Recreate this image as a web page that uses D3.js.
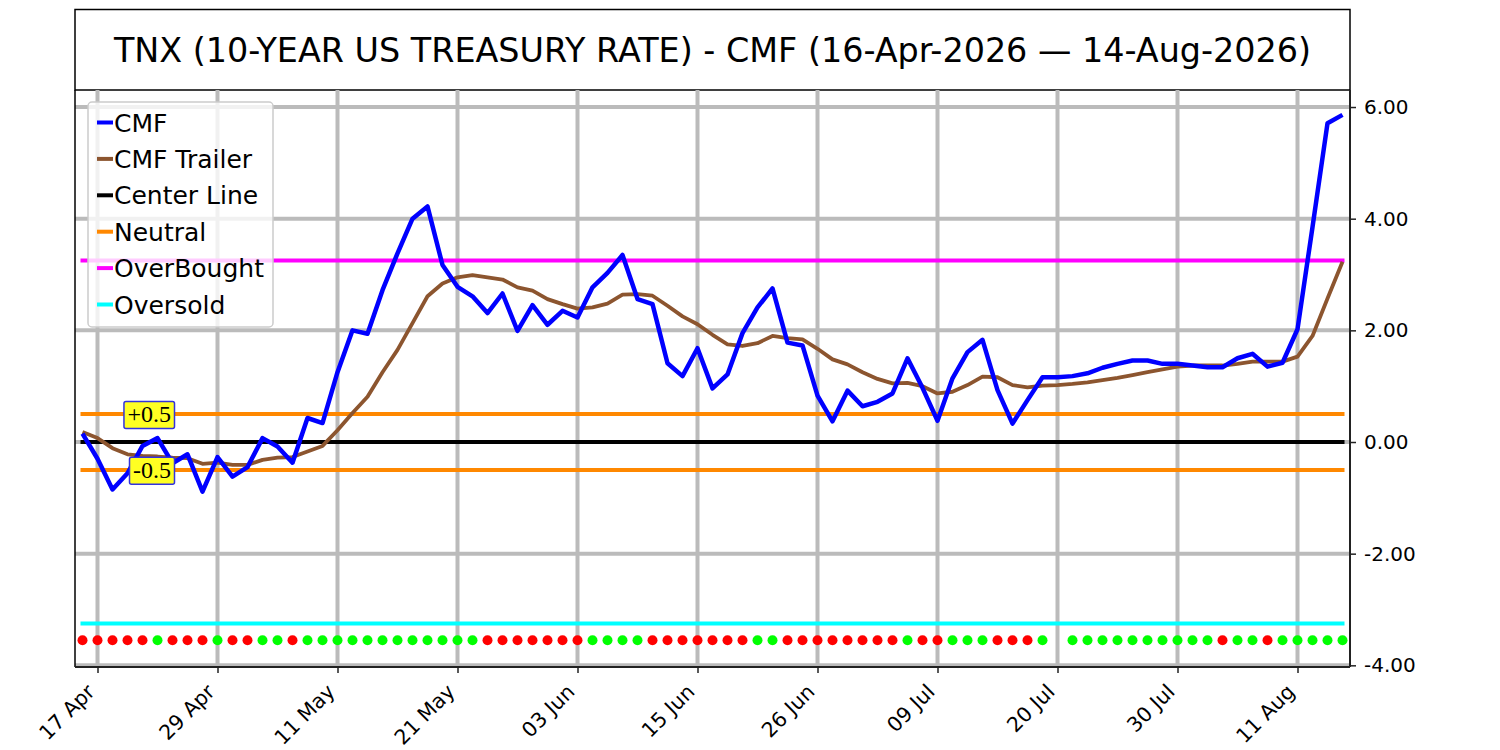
<!DOCTYPE html>
<html>
<head>
<meta charset="utf-8">
<script src="https://cdn.jsdelivr.net/npm/d3@7"></script>
<style>
  body { margin: 0; background: #fff; }
  text { font-family: "DejaVu Sans", sans-serif; }
</style>
</head>
<body>
<div id="chart"></div>
<script>
"use strict";
// valeurs (index = jour de bourse, 16-Apr -> 14-Aug)
const cmf = [0.15,-0.3,-0.85,-0.56,-0.07,0.07,-0.38,-0.22,-0.89,-0.27,
  -0.62,-0.45,0.07,-0.08,-0.37,0.43,0.34,1.25,2.0,1.94,
  2.72,3.38,4.0,4.22,3.17,2.78,2.61,2.31,2.66,1.99,
  2.45,2.1,2.35,2.23,2.77,3.03,3.35,2.56,2.47,1.41,
  1.18,1.68,0.96,1.21,1.95,2.41,2.75,1.78,1.73,0.83,
  0.37,0.92,0.64,0.72,0.87,1.5,0.97,0.38,1.14,1.61,
  1.83,0.93,0.33,0.75,1.16,1.16,1.18,1.23,1.33,1.4,
  1.46,1.46,1.4,1.4,1.37,1.34,1.34,1.5,1.58,1.35,
  1.42,2.02,3.85,5.71,5.86];
const cmfTrailer = [0.18,0.07,-0.11,-0.22,-0.25,-0.26,-0.28,-0.29,-0.39,-0.37,
  -0.41,-0.41,-0.32,-0.28,-0.27,-0.17,-0.07,0.21,0.52,0.81,
  1.25,1.65,2.13,2.61,2.84,2.95,2.99,2.95,2.91,2.77,
  2.71,2.56,2.47,2.39,2.41,2.48,2.64,2.65,2.62,2.44,
  2.25,2.11,1.92,1.75,1.72,1.77,1.9,1.86,1.84,1.67,
  1.48,1.39,1.25,1.13,1.05,1.06,1.0,0.87,0.9,1.02,
  1.17,1.16,1.02,0.98,1.01,1.02,1.04,1.07,1.11,1.15,
  1.2,1.25,1.3,1.35,1.37,1.37,1.37,1.4,1.44,1.44,
  1.44,1.53,1.9,2.57,3.23];
// signal : R = rouge, G = vert, - = pas de point
const signal = "RRRRRGRRRGRRGGRGGGGGGGGGGGGRRRRRRRGGGGRRRRRRRGGRRRRRRRRGRRGGGRRRG-GGGGGGGGGGRGGRGGGGG".split("");
const tickIdx = [1,9,17,25,33,41,49,57,65,73,81];
const tickLabels = ["17 Apr","29 Apr","11 May","21 May","03 Jun","15 Jun","26 Jun","09 Jul","20 Jul","30 Jul","11 Aug"];
const yTicks = [6,4,2,0,-2,-4];
const levels = {center: 0, neutral: [0.5,-0.5], overBought: 3.25, overSold: -3.25, signalY: -3.55};
const legendItems = [
  {name: "CMF", color: "#0000ff"},
  {name: "CMF Trailer", color: "#8c552f"},
  {name: "Center Line", color: "#000000"},
  {name: "Neutral", color: "#ff8800"},
  {name: "OverBought", color: "#ff00ff"},
  {name: "Oversold", color: "#00ffff"}
];
const title = "TNX (10-YEAR US TREASURY RATE) - CMF (16-Apr-2026 \u2014 14-Aug-2026)";

const W = 1500, H = 750;
const pLeft = 75, pRight = 1350, pTop = 90, pBottom = 667;

const svg = d3.select("#chart").append("svg").attr("width", W).attr("height", H);

const x = d3.scaleLinear().domain([-0.5, cmf.length - 0.5]).range([pLeft, pRight]);
const y = d3.scaleLinear().domain([-4.03, 6.305]).range([pBottom, pTop]);

// boîte du titre
svg.append("rect").attr("x", pLeft).attr("y", 9.5).attr("width", pRight - pLeft).attr("height", pTop - 9.5)
  .attr("fill", "none").attr("stroke", "#000").attr("stroke-width", 1.5);
svg.append("text").attr("x", (pLeft + pRight) / 2).attr("y", 62)
  .attr("text-anchor", "middle").attr("font-size", 33.4).attr("fill", "#000").text(title);

const plot = svg.append("g");
plot.append("clipPath").attr("id", "clip").append("rect")
  .attr("x", pLeft).attr("y", pTop).attr("width", pRight - pLeft).attr("height", pBottom - pTop);
const g = plot.append("g").attr("clip-path", "url(#clip)");

// grille
g.selectAll(".hgrid").data(yTicks).enter().append("line")
  .attr("x1", pLeft).attr("x2", pRight).attr("y1", d => y(d)).attr("y2", d => y(d))
  .attr("stroke", "#bbbbbb").attr("stroke-width", 4);
g.selectAll(".vgrid").data(tickIdx).enter().append("line")
  .attr("x1", d => x(d)).attr("x2", d => x(d)).attr("y1", pTop).attr("y2", pBottom)
  .attr("stroke", "#bbbbbb").attr("stroke-width", 4);

// lignes de niveau
function hline(v, color, w) {
  g.append("line").attr("x1", x(0)).attr("x2", x(cmf.length - 1))
    .attr("y1", y(v)).attr("y2", y(v))
    .attr("stroke", color).attr("stroke-width", w).attr("stroke-linecap", "square");
}
hline(levels.overSold, "#00ffff", 4);
hline(levels.overBought, "#ff00ff", 4);
levels.neutral.forEach(v => hline(v, "#ff8800", 4));
hline(levels.center, "#000000", 4);

const line = d3.line().x((d, i) => x(i)).y(d => y(d));
g.append("path").datum(cmfTrailer).attr("d", line).attr("fill", "none")
  .attr("stroke", "#8c552f").attr("stroke-width", 3.8).attr("stroke-linejoin", "round");
g.append("path").datum(cmf).attr("d", line).attr("fill", "none")
  .attr("stroke", "#0000ff").attr("stroke-width", 4.5).attr("stroke-linejoin", "round");

// points de signal
g.selectAll(".sig").data(signal.map((s, i) => ({s, i})).filter(d => d.s !== "-"))
  .enter().append("circle")
  .attr("cx", d => x(d.i)).attr("cy", y(levels.signalY)).attr("r", 5)
  .attr("fill", d => d.s === "G" ? "#00ff00" : "#ff0000");

// étiquettes +0.5 / -0.5
levels.neutral.forEach(v => {
  const lab = svg.append("g");
  const t = lab.append("text").attr("x", x(6) - 1.5).attr("y", y(v))
    .attr("dy", "0.35em").attr("text-anchor", "end")
    .style("font-family", "'Liberation Serif', 'DejaVu Serif', serif").attr("font-size", 24)
    .attr("fill", "#000").text(v > 0 ? "+0.5" : "-0.5");
  const bb = t.node().getBBox();
  lab.insert("rect", "text").attr("x", bb.x - 3.5).attr("y", bb.y)
    .attr("width", bb.width + 7).attr("height", bb.height + 1).attr("rx", 2)
    .attr("fill", "#ffff22").attr("stroke", "#3333dd").attr("stroke-width", 1.5);
});

// cadre
svg.append("line").attr("x1", pLeft).attr("x2", pLeft).attr("y1", pTop).attr("y2", pBottom)
  .attr("stroke", "#000").attr("stroke-width", 1.5);
svg.append("line").attr("x1", pRight).attr("x2", pRight).attr("y1", pTop).attr("y2", pBottom)
  .attr("stroke", "#222").attr("stroke-width", 2);
svg.append("line").attr("x1", pLeft).attr("x2", pRight).attr("y1", pBottom).attr("y2", pBottom)
  .attr("stroke", "#222").attr("stroke-width", 2);

// axe droit
const yAxis = svg.append("g").attr("transform", `translate(${pRight},0)`)
  .call(d3.axisRight(y).tickValues(yTicks).tickFormat(d3.format(".2f")).tickSize(6).tickPadding(8));
yAxis.select(".domain").remove();
yAxis.selectAll(".tick line").attr("stroke", "#222").attr("stroke-width", 1.5);
yAxis.selectAll(".tick text").attr("font-size", 20).attr("fill", "#000")
  .style("font-family", "'DejaVu Sans', sans-serif")
  .text(d => d3.format(".2f")(d).replace("\u2212", "-"));

// axe du bas
const xAxis = svg.append("g").attr("transform", `translate(0,${pBottom})`)
  .call(d3.axisBottom(x).tickValues(tickIdx).tickFormat((d, i) => tickLabels[i]).tickSize(6));
xAxis.select(".domain").remove();
xAxis.selectAll(".tick line").attr("stroke", "#222").attr("stroke-width", 1.5);
xAxis.selectAll(".tick text")
  .attr("font-size", 20.5).attr("fill", "#000").style("font-family", "'DejaVu Sans', sans-serif")
  .attr("text-anchor", "end").attr("x", 0).attr("y", 0).attr("dy", 0)
  .attr("transform", "translate(-2,26) rotate(-45)");

// légende
const leg = svg.append("g");
leg.append("rect").attr("x", 88).attr("y", 102).attr("width", 185).attr("height", 225).attr("rx", 4)
  .attr("fill", "#fff").attr("fill-opacity", 0.8).attr("stroke", "#cccccc").attr("stroke-width", 1.5);
legendItems.forEach((d, i) => {
  const cy = 122.5 + i * 36.4;
  leg.append("line").attr("x1", 97).attr("x2", 113).attr("y1", cy).attr("y2", cy)
    .attr("stroke", d.color).attr("stroke-width", 4);
  leg.append("text").attr("x", 114).attr("y", cy + 9).attr("font-size", 25)
    .attr("fill", "#000").text(d.name);
});
</script>
</body>
</html>
